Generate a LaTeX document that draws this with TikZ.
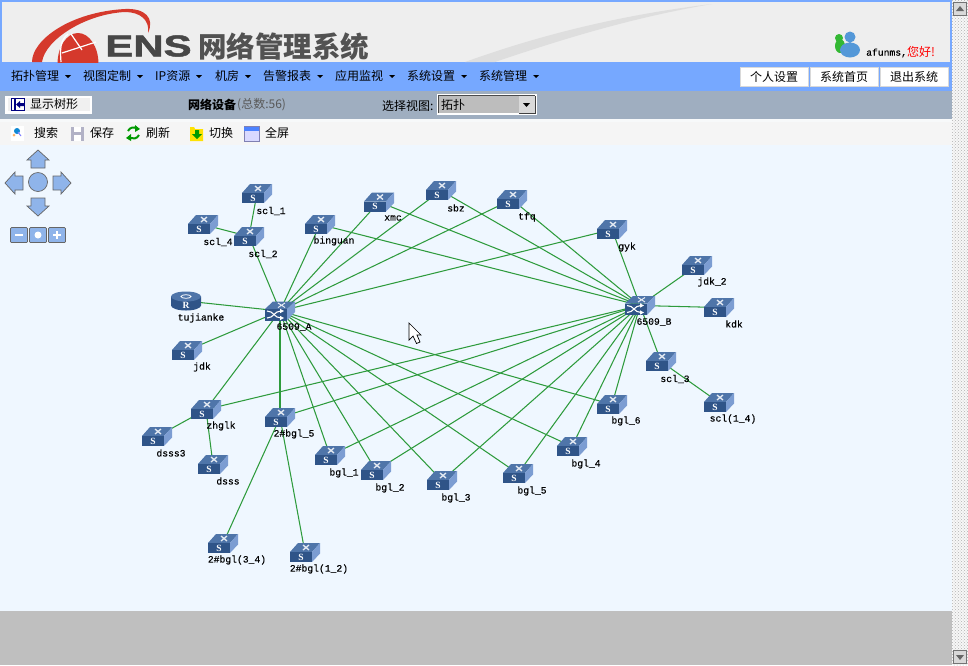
\documentclass[tikz,border=0pt]{standalone}
\usepackage{fontspec}
\setmainfont{Noto Sans CJK SC}
\newfontfamily\devfont[FakeBold=.25]{Liberation Mono}
\newfontfamily\iconfont{Liberation Serif}
\newfontfamily\logofont[FakeBold=1.5]{Liberation Sans Bold}
\usetikzlibrary{calc,positioning,backgrounds,patterns,shapes.geometric}

\definecolor{menublue}{HTML}{76A8FF}
\definecolor{barblue}{HTML}{9FAEC0}
\definecolor{canvasblue}{HTML}{EFF7FF}
\definecolor{linkgreen}{HTML}{2E9B3C}
\definecolor{swfront}{HTML}{2F5488}
\definecolor{swtop}{HTML}{4F75A9}
\definecolor{swside}{HTML}{7C9DD2}
\definecolor{navblue}{HTML}{8FB4EA}
\definecolor{logored}{HTML}{D5392C}

\newcommand{\swbody}{%
  \fill [swtop] (-15,-.5) -- (-7,-9.5) -- (15,-9.5) -- (7,-.5) -- cycle;
  \fill [swside] (7,-.5) -- (15,-9.5) -- (15,1) -- (7,9.5) -- cycle;
  \fill [swfront] (-15,-.5) rectangle (7,9.5);
  \draw [white!85!swtop,line width=1.3pt] (-2,-7.5) -- (4,-2.5) (-2,-2.5) -- (4,-7.5);
}
\tikzset{
  page/.style={inner sep=0pt,font=\fontsize{12}{14}\selectfont},
  menutext/.style={page,anchor=west},
  topbtn/.style={page,fill=white,draw=black!15,minimum width=68pt,minimum height=19pt},
  devname/.style={inner sep=0pt,font=\devfont\fontsize{9.7}{11}\selectfont},
  iconletter/.style={inner sep=0pt,text=white,font=\iconfont\bfseries\fontsize{9.5}{9.5}\selectfont},
  link/.style={draw=linkgreen,line width=1.05pt},
  navbtn/.style={fill=navblue,draw=black!60,line width=.7pt},
  swbox/.style={inner sep=0pt,minimum width=30pt,minimum height=19pt,
    path picture={\begin{scope}[shift={(path picture bounding box.center)}]
      \swbody
      \node [iconletter] at (-4,4.5) {S};
    \end{scope}}},
  hubbox/.style={inner sep=0pt,minimum width=30pt,minimum height=19pt,
    path picture={\begin{scope}[shift={(path picture bounding box.center)}]
      \fill [swtop] (-15,-2) -- (-7,-9.5) -- (15,-9.5) -- (7,-2) -- cycle;
      \fill [swside] (7,-2) -- (15,-9.5) -- (15,1) -- (7,9.5) -- cycle;
      \fill [swfront] (-15,-2) rectangle (7,9.5);
      \draw [white!85!swtop,line width=1pt] (-2,-8) -- (5,-3.5) (-2,-3.5) -- (5,-8);
      \draw [white,line width=1.1pt] (-13,0) .. controls (-6,0) and (-6,7) .. (1,7);
      \draw [white,line width=1.1pt] (-13,7) .. controls (-6,7) and (-6,0) .. (1,0);
      \fill [white] (4,0) -- (0,-2.2) -- (0,2.2) -- cycle (4,7) -- (0,4.8) -- (0,9.2) -- cycle;
    \end{scope}}},
  rtbox/.style={inner sep=0pt,minimum width=30pt,minimum height=19pt,
    path picture={\begin{scope}[shift={(path picture bounding box.center)}]
      \fill [swfront] (-15,-4.5) -- (-15,4.5) arc (180:0:15 and 5) -- (15,-4.5) -- cycle;
      \fill [swtop] (0,-4.5) ellipse (15 and 5);
      \draw [white,line width=.8pt] (0,-4.5) ellipse (5 and 1.8);
      \node [iconletter] at (0,4) {R};
    \end{scope}}}
}

\begin{document}
\begin{tikzpicture}[x=1pt,y=-1pt]
  \useasboundingbox (0,0) rectangle (968,665);
  % page bands
  \begin{scope}[on background layer]
    \fill [menublue] (0,0) rectangle (952,62);
    \fill [black!6.5] (2,2) rectangle (950,62);
    \fill [menublue] (0,62) rectangle (952,91);
    \fill [barblue] (0,91) rectangle (952,119);
    \fill [white!92!barblue] (0,119) rectangle (952,122);
    \fill [black!4] (0,122) rectangle (952,145);
    \fill [canvasblue] (0,145) rectangle (952,611);
    \fill [black!25] (0,611) rectangle (952,665);
    \fill [black!3] (952,0) rectangle (968,665);
    \fill [pattern=crosshatch dots,pattern color=black!30] (952,0) rectangle (968,665);
  \end{scope}

  % logo
  \fill [black!13] (465,62) .. controls (540,35) and (620,15) .. (712,4)
    .. controls (630,18) and (560,40) .. (495,62) -- cycle;
  \fill [logored] (32,62) .. controls (32,40) and (70,12) .. (125,9)
    .. controls (145,8) and (155,18) .. (148,33) .. controls (150,20) and (140,12) .. (125,12)
    .. controls (85,14) and (45,40) .. (42,62) -- cycle;
  \begin{scope}
    \clip (0,0) rectangle (200,62);
    \fill [logored] (78,64) ellipse (20.5 and 31);
    \draw [white,line width=1.2pt] (71,34) -- (82,50) (62,53) -- (96,42)
      (68,34) .. controls (60,40) and (60,50) .. (61,62);
  \end{scope}
  \node [inner sep=0pt,anchor=west,xscale=1.4,text=black!72,font=\logofont\fontsize{30}{30}\selectfont]
    (enstext) at (105,46) {ENS};
  \node [inner sep=0pt,anchor=west,text=black!68,font=\bfseries\fontsize{28.5}{30}\selectfont]
    (logotext) at (198,47) {网络管理系统};

  % user
  \fill [green!65!black!80] (839,38) circle (4) (840,46) ellipse (5 and 7);
  \fill [cyan!60!blue!70] (850,37) circle (5.5) (850,50) ellipse (10 and 7.5);
  \node [devname,anchor=west] (username) at (866,53) {afunms,};
  \node [menutext,text=red] (hello) at (907,52) {您好!};

  % menu
  \node [menutext] (m1) at (11,76) {拓扑管理};
  \node [menutext] (m2) at (83,76) {视图定制};
  \node [menutext] (m3) at (155,76) {IP资源};
  \node [menutext] (m4) at (215,76) {机房};
  \node [menutext] (m5) at (263,76) {告警报表};
  \node [menutext] (m6) at (335,76) {应用监视};
  \node [menutext] (m7) at (407,76) {系统设置};
  \node [menutext] (m8) at (479,76) {系统管理};
  \foreach \x in {68,140,199,248,320,392,464,536}
    \fill (\x-3,75) -- ++(6,0) -- ++(-3,3) -- cycle;
  \node [topbtn] (b1) at (774,77) {个人设置};
  \node [topbtn] (b2) at (844,77) {系统首页};
  \node [topbtn] (b3) at (914,77) {退出系统};

  % grey bar
  \fill [white] (5,96) rectangle (92,114);
  \fill [black!6] (8,98) rectangle (90,111);
  \fill [white] (11,98) rectangle (25,111);
  \draw [blue!50!black,line width=1.2pt] (11.5,98.5) rectangle (24.5,110.5) (15,98.5) -- (15,110.5);
  \fill [blue!50!black] (16,104.5) -- (20,101) -- (20,103) -- (24,103) -- (24,106) -- (20,106) -- (20,108) -- cycle;
  \node [menutext] (treebtn) at (30,104) {显示树形};
  \node [menutext,font=\bfseries\fontsize{12}{14}\selectfont] (devtitle) at (188,105) {网络设备};
  \node [menutext,text=black!65] (devcount) at (237,105) {(总数:56)};
  \node [menutext] (viewlabel) at (382,106) {选择视图:};
  \fill [white] (437,94) rectangle (537,115);
  \fill [black!26] (438,95) rectangle (535,113);
  \draw [black!70] (438,113) -- (438,95) -- (535,95);
  \node [menutext] (viewval) at (441,105) {拓扑};
  \fill [black!15] (519,96) rectangle (535,113);
  \draw [black!75] (519,113) -- (535,113) -- (535,96);
  \fill (523,103) -- (530,103) -- (526.5,107) -- cycle;

  % toolbar
  \fill [white] (11,126) rectangle (24,141);
  \fill [cyan!70!blue] (17,131) circle (3);
  \fill [orange!60] (14,135) circle (1.5);
  \draw [blue!50,line width=1pt] (18,132) -- (21,136);
  \node [menutext] (t1) at (34,133) {搜索};
  \fill [blue!25!black!30] (71,127) rectangle (84,141);
  \fill [white] (74,127) rectangle (81,132);
  \fill [white] (74,135) rectangle (81,141);
  \node [menutext] (t2) at (90,133) {保存};
  \draw [green!60!black,line width=2pt] (128,131) .. controls (130,127) and (134,127) .. (136,128);
  \draw [green!60!black,line width=2pt] (139,135) .. controls (137,139) and (133,139) .. (130,138);
  \fill [green!60!black] (135,125) -- (140,129) -- (135,132) -- cycle (131,134) -- (126,138) -- (131,141) -- cycle;
  \node [menutext] (t3) at (146,133) {刷新};
  \fill [yellow!85!orange] (190,127) -- (194,127) -- (195,129) -- (203,129) -- (203,141) -- (190,141) -- cycle;
  \fill [green!60!black] (195,130) -- (199,130) -- (199,134) -- (202,134) -- (197,139) -- (192,134) -- (195,134) -- cycle;
  \node [menutext] (t4) at (209,133) {切换};
  \draw [blue!40!black!50,fill=white!85!blue] (244,126.5) rectangle (259,141);
  \fill [blue!70!cyan!70] (244,126.5) rectangle (259,130.5);
  \node [menutext] (t5) at (265,133) {全屏};

  % pan and zoom
  \foreach \ang in {0,90,180,270}
    \draw [navbtn,rotate around={\ang:(38,183)}] (38,150) -- (49,160) -- (45,160) -- (45,168)
      -- (31,168) -- (31,160) -- (27,160) -- cycle;
  \draw [navbtn] (38,182) circle (9.5);
  \draw [navbtn,rounded corners=1pt] (10.5,227.5) rectangle (27.5,242.5);
  \draw [navbtn,rounded corners=1pt] (29.5,227.5) rectangle (46.5,242.5);
  \draw [navbtn,rounded corners=1pt] (48.5,227.5) rectangle (65.5,242.5);
  \draw [white,line width=2pt] (15,235) -- (23,235) (53,235) -- (61,235) (57,231) -- (57,239);
  \fill [white] (38,235) circle (3.5);

  % devices
  \node [swbox] (scl1) at (257,193.5) {};
  \node [devname] (scl1t) at (271,211) {scl\_1};
  \node [swbox] (scl4) at (203,224.5) {};
  \node [devname] (scl4t) at (218,242) {scl\_4};
  \node [swbox] (scl2) at (249,236.5) {};
  \node [devname] (scl2t) at (263,254) {scl\_2};
  \node [swbox] (binguan) at (320,224.5) {};
  \node [devname] (binguant) at (334,241) {binguan};
  \node [swbox] (xmc) at (379,202) {};
  \node [devname] (xmct) at (393,218) {xmc};
  \node [swbox] (sbz) at (441,190.5) {};
  \node [devname] (sbzt) at (456,208) {sbz};
  \node [swbox] (tfq) at (512,199.5) {};
  \node [devname] (tfqt) at (527,217) {tfq};
  \node [swbox] (gyk) at (612,229.5) {};
  \node [devname] (gykt) at (627,247) {gyk};
  \node [swbox] (jdk2) at (697,265.5) {};
  \node [devname] (jdk2t) at (712,282) {jdk\_2};
  \node [swbox] (kdk) at (719,307.5) {};
  \node [devname] (kdkt) at (734,324) {kdk};
  \node [hubbox] (hubb) at (640,305.5) {};
  \node [devname] (hubbt) at (654,322) {6509\_B};
  \node [hubbox] (huba) at (280,311) {};
  \node [devname] (hubat) at (294,327) {6509\_A};
  \node [rtbox] (tujianke) at (186,301) {};
  \node [devname] (tujianket) at (201,318) {tujianke};
  \node [swbox] (jdk) at (187,350.5) {};
  \node [devname] (jdkt) at (202,367) {jdk};
  \node [swbox] (zhglk) at (206,409.5) {};
  \node [devname] (zhglkt) at (221,426) {zhglk};
  \node [swbox] (dsss3) at (157,436.5) {};
  \node [devname] (dsss3t) at (171,453) {dsss3};
  \node [swbox] (dsss) at (213,464.5) {};
  \node [devname] (dssst) at (228,481) {dsss};
  \node [swbox] (zbgl5) at (280,417.5) {};
  \node [devname] (zbgl5t) at (294,434) {2\#bgl\_5};
  \node [swbox] (zbgl34) at (223,543.5) {};
  \node [devname] (zbgl34t) at (237,560) {2\#bgl(3\_4)};
  \node [swbox] (zbgl12) at (305,552.5) {};
  \node [devname] (zbgl12t) at (319,569) {2\#bgl(1\_2)};
  \node [swbox] (bgl1) at (330,455.5) {};
  \node [devname] (bgl1t) at (344,473) {bgl\_1};
  \node [swbox] (bgl2) at (376,470.5) {};
  \node [devname] (bgl2t) at (390,488) {bgl\_2};
  \node [swbox] (bgl3) at (442,480.5) {};
  \node [devname] (bgl3t) at (456,498) {bgl\_3};
  \node [swbox] (bgl5) at (518,473.5) {};
  \node [devname] (bgl5t) at (532,491) {bgl\_5};
  \node [swbox] (bgl4) at (572,446.5) {};
  \node [devname] (bgl4t) at (586,464) {bgl\_4};
  \node [swbox] (bgl6) at (612,404.5) {};
  \node [devname] (bgl6t) at (626,421) {bgl\_6};
  \node [swbox] (scl3) at (661,361.5) {};
  \node [devname] (scl3t) at (675,379) {scl\_3};
  \node [swbox] (scl14) at (719,402.5) {};
  \node [devname] (scl14t) at (733,419) {scl(1\_4)};

  % links
  \begin{scope}[on background layer]
    \foreach \dev in {scl2,tujianke,jdk,zhglk,zbgl5,binguan,xmc,sbz,tfq,gyk,bgl1,bgl2,bgl3,bgl5,bgl4,bgl6}
      \draw [link] (huba.center) -- (\dev.center);
    \foreach \dev in {gyk,jdk2,kdk,scl3,tfq,sbz,xmc,binguan,zhglk,zbgl5,bgl1,bgl2,bgl3,bgl5,bgl4,bgl6}
      \draw [link] (hubb.center) -- (\dev.center);
    \draw [link] (scl1.center) -- (scl2.center);
    \draw [link] (scl4.center) -- (scl2.center);
    \draw [link] (zhglk.center) -- (dsss3.center);
    \draw [link] (zhglk.center) -- (dsss.center);
    \draw [link] (zbgl5.center) -- (zbgl34.center);
    \draw [link] (zbgl5.center) -- (zbgl12.center);
    \draw [link] (scl3.center) -- (scl14.center);
  \end{scope}

  % pointer
  \draw [fill=white,line width=.7pt] (409,323) -- (409,340) -- (413,336) -- (416.5,343.5)
    -- (420,342) -- (417,335) -- (421,335) -- cycle;

  % scrollbar buttons
  \draw [fill=black!15,draw=black!55] (953.5,2.5) rectangle (966.5,15.5);
  \fill [black!60] (960,6) -- (964,11) -- (956,11) -- cycle;
  \draw [fill=black!15,draw=black!55] (953.5,650.5) rectangle (966.5,663.5);
  \fill [black!60] (960,660) -- (964,655) -- (956,655) -- cycle;
\end{tikzpicture}
\end{document}
